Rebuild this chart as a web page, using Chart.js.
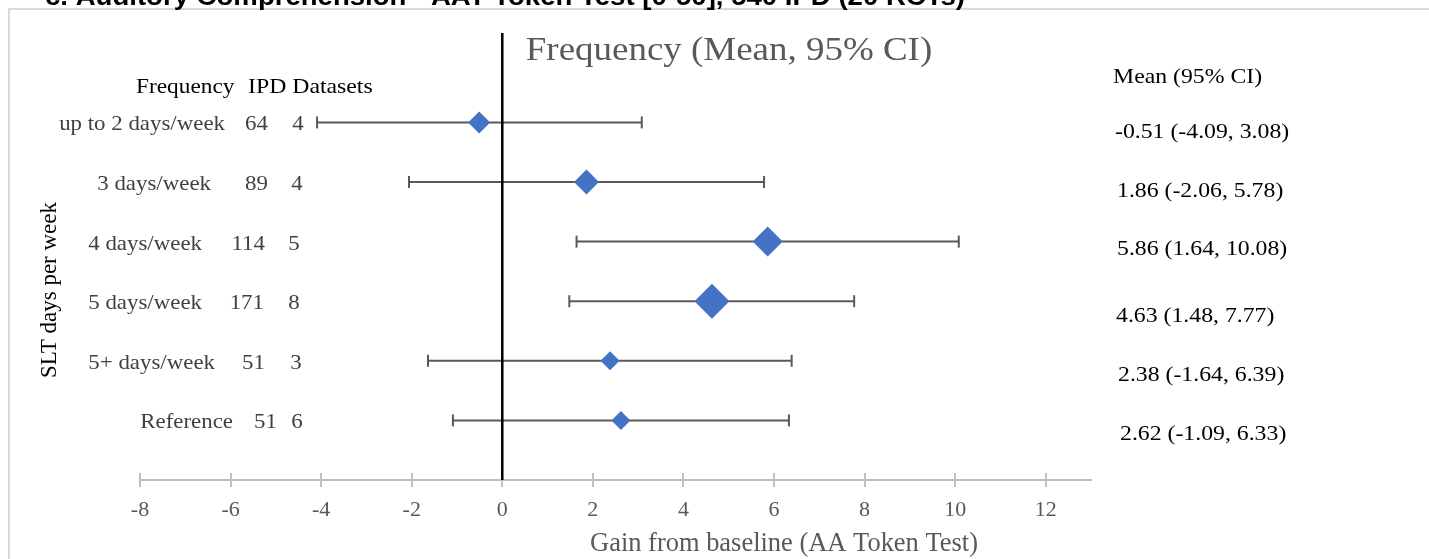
<!DOCTYPE html>
<html>
<head>
<meta charset="utf-8">
<script src="https://cdn.jsdelivr.net/npm/chart.js@4.4.1/dist/chart.umd.min.js"></script>
<style>
  html, body { margin: 0; padding: 0; background: #ffffff; overflow: hidden; }
  #wrap { position: relative; width: 1429px; height: 559px; }
  #frame { position: absolute; left: 8px; top: 8px; width: 1440px; height: 580px;
           border-left: 2px solid #d9d9d9; border-top: 2px solid #d9d9d9; box-sizing: border-box; }
  canvas { position: absolute; left: 0; top: 0; }
</style>
</head>
<body>
<div id="wrap">
  <div id="frame"></div>
  <canvas id="c" width="1429" height="559"></canvas>
</div>
<script>
// ---------- data ----------
const categories = ['up to 2 days/week', '3 days/week', '4 days/week', '5 days/week', '5+ days/week', 'Reference'];
const ipdCounts = [64, 89, 114, 171, 51, 51];
const datasetCounts = [4, 4, 5, 8, 3, 6];
const means = [-0.51, 1.86, 5.86, 4.63, 2.38, 2.62];
const lowerCI = [-4.09, -2.06, 1.64, 1.48, -1.64, -1.09];
const upperCI = [3.08, 5.78, 10.08, 7.77, 6.39, 6.33];
const rowPositions = [6, 5, 4, 3, 2, 1];
const xTicks = [-8, -6, -4, -2, 0, 2, 4, 6, 8, 10, 12];

const topTitle = 'c. Auditory Comprehension - AAT Token Test [0-50], 540 IPD (20 RCTs)';
const chartTitle = 'Frequency (Mean, 95% CI)';
const xTitle = 'Gain from baseline (AA Token Test)';
const yTitle = 'SLT days per week';
const leftHeaderA = 'Frequency';
const leftHeaderB = 'IPD Datasets';
const rightHeader = 'Mean (95% CI)';

// ---------- styles / layout (not data) ----------
const markerRadius = [11, 12.5, 15, 17.5, 9.5, 9.5];
const nameRight = [225, 211, 202, 202, 215, 233];
const ipdRight = [268, 268, 265, 264, 265, 277];
const countCenter = [298, 297, 294, 294, 296, 297];
const meanLabelLeft = [1115, 1117, 1117, 1116, 1118, 1120];
const meanLabelDy = [16, 15, 13, 21, 20, 20];
const SERIF = '"Liberation Serif", "Times New Roman", serif';

// build datasets from data arrays
const diamondPoints = means.map((m, i) => ({ x: m, y: rowPositions[i] }));
const barPoints = [];
lowerCI.forEach((lo, i) => {
  barPoints.push({ x: lo, y: rowPositions[i] });
  barPoints.push({ x: upperCI[i], y: rowPositions[i] });
  barPoints.push({ x: upperCI[i], y: null });
});
const Y_MIN = 0, Y_MAX = 7.5;
const zeroLine = [{ x: 0, y: Y_MIN }, { x: 0, y: Y_MAX }];

function fmt(v) { return v.toFixed(2); }

function drawText(ctx, text, x, y, font, color, align, sx) {
  ctx.save();
  ctx.font = font;
  ctx.fillStyle = color;
  ctx.textAlign = align;
  ctx.textBaseline = 'alphabetic';
  ctx.translate(x, y);
  ctx.scale(sx, 1);
  ctx.fillText(text, 0, 0);
  ctx.restore();
}

const textPlugin = {
  id: 'forestText',
  beforeDatasetsDraw(chart) {
    const ctx = chart.ctx, xs = chart.scales.x, yPix = chart.chartArea.bottom;
    ctx.save();
    ctx.strokeStyle = '#bfbfbf';
    ctx.lineWidth = 2;
    xTicks.forEach(v => {
      const px = Math.round(xs.getPixelForValue(v));
      ctx.beginPath();
      ctx.moveTo(px, yPix - 7);
      ctx.lineTo(px, yPix + 7);
      ctx.stroke();
    });
    ctx.restore();
  },
  afterDraw(chart) {
    const ctx = chart.ctx, ys = chart.scales.y;
    ctx.save();
    ctx.font = 'bold 25px "Liberation Sans", Arial, sans-serif';
    const w = ctx.measureText(topTitle).width;
    ctx.restore();
    drawText(ctx, topTitle, 45, 5, 'bold 25px "Liberation Sans", Arial, sans-serif', '#000000', 'left', 920 / w);

    drawText(ctx, chartTitle, 729, 60, '33px ' + SERIF, '#595959', 'center', 1.12);

    drawText(ctx, leftHeaderA, 136, 93, '22px ' + SERIF, '#000000', 'left', 1.06);
    drawText(ctx, leftHeaderB, 248, 93, '22px ' + SERIF, '#000000', 'left', 1.08);
    drawText(ctx, rightHeader, 1113, 83, '22px ' + SERIF, '#000000', 'left', 1.08);

    categories.forEach((cat, i) => {
      const py = ys.getPixelForValue(rowPositions[i]);
      drawText(ctx, cat, nameRight[i], py + 8, '22px ' + SERIF, '#404040', 'right', 1.04);
      drawText(ctx, String(ipdCounts[i]), ipdRight[i], py + 8, '22px ' + SERIF, '#404040', 'right', 1.04);
      drawText(ctx, String(datasetCounts[i]), countCenter[i], py + 8, '22px ' + SERIF, '#404040', 'center', 1.04);
      const lab = fmt(means[i]) + ' (' + fmt(lowerCI[i]) + ', ' + fmt(upperCI[i]) + ')';
      drawText(ctx, lab, meanLabelLeft[i], py + meanLabelDy[i], '22px ' + SERIF, '#000000', 'left', 1.08);
    });

    drawText(ctx, xTitle, 784, 551, '27px ' + SERIF, '#595959', 'center', 0.98);

    ctx.save();
    ctx.translate(56, 290);
    ctx.rotate(-Math.PI / 2);
    ctx.font = '23px ' + SERIF;
    ctx.fillStyle = '#000000';
    ctx.textAlign = 'center';
    ctx.textBaseline = 'alphabetic';
    ctx.fillText(yTitle, 0, 0);
    ctx.restore();
  }
};

new Chart(document.getElementById('c'), {
  type: 'scatter',
  data: {
    datasets: [
      {
        label: 'Mean',
        data: diamondPoints,
        pointStyle: 'rectRot',
        pointRadius: markerRadius,
        pointHoverRadius: markerRadius,
        backgroundColor: '#4472C4',
        borderColor: '#4472C4',
        pointBorderWidth: 0,
        order: 0
      },
      {
        label: 'Zero',
        data: zeroLine,
        showLine: true,
        borderColor: '#000000',
        borderWidth: 2.5,
        pointRadius: 0,
        order: 1
      },
      {
        label: '95% CI',
        data: barPoints,
        showLine: true,
        spanGaps: false,
        borderColor: '#595959',
        borderWidth: 2,
        pointStyle: 'line',
        rotation: 90,
        pointRadius: 6,
        pointBorderColor: '#595959',
        pointBorderWidth: 2,
        order: 2
      }
    ]
  },
  options: {
    responsive: false,
    animation: false,
    events: [],
    layout: { padding: { left: 140, right: 338, top: 33, bottom: 0 } },
    plugins: { legend: { display: false }, tooltip: { enabled: false }, title: { display: false } },
    scales: {
      x: {
        type: 'linear',
        min: -8,
        max: 13,
        afterBuildTicks: s => { s.ticks = xTicks.map(v => ({ value: v })); },
        afterFit: s => { s.height = 79; },
        grid: { display: false, drawTicks: false },
        border: { display: true, color: '#bfbfbf', width: 2 },
        ticks: {
          padding: 17,
          color: '#595959',
          font: { family: SERIF, size: 22 },
          callback: v => String(v)
        }
      },
      y: {
        type: 'linear',
        min: Y_MIN,
        max: Y_MAX,
        display: false
      }
    }
  },
  plugins: [textPlugin]
});
</script>
</body>
</html>
